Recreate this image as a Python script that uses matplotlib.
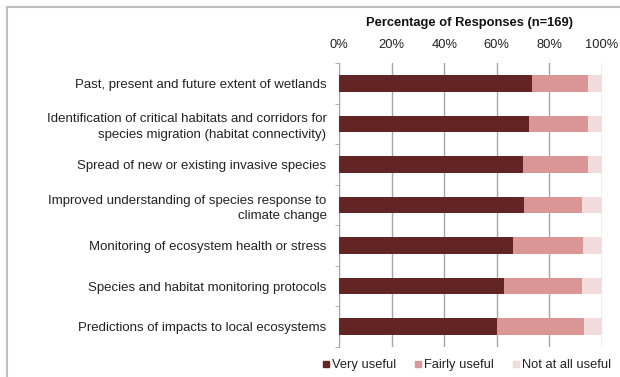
import numpy as np
import matplotlib
matplotlib.use('Agg')
import matplotlib.pyplot as plt
from matplotlib.lines import Line2D

plt.rcParams['font.family'] = ['Liberation Sans', 'DejaVu Sans']

categories = [
    'Past, present and future extent of wetlands',
    'Identification of critical habitats and corridors for\nspecies migration (habitat connectivity)',
    'Spread of new or existing invasive species',
    'Improved understanding of species response to\nclimate change',
    'Monitoring of ecosystem health or stress',
    'Species and habitat monitoring protocols',
    'Predictions of impacts to local ecosystems',
]
very_useful = [73.3, 72.2, 70.1, 70.3, 66.3, 62.9, 60.0]
fairly_useful = [21.5, 22.6, 24.7, 22.2, 26.6, 29.6, 33.2]
not_useful = [5.2, 5.2, 5.2, 7.5, 7.1, 7.5, 6.8]
series_names = ['Very useful', 'Fairly useful', 'Not at all useful']
colors = ['#632523', '#D99694', '#F2DCDB']
xticks = [0, 20, 40, 60, 80, 100]
title = 'Percentage of Responses (n=169)'

W, H = 620, 377
fig = plt.figure(figsize=(W / 100, H / 100), dpi=100)
ax = fig.add_axes([339 / W, 30 / H, 263 / W, 284 / H])

y = np.arange(len(categories))
left = np.zeros(len(categories))
for vals, c, name in zip([very_useful, fairly_useful, not_useful], colors, series_names):
    ax.barh(y, vals, left=left, height=0.41, color=c, label=name, zorder=3)
    left = left + np.array(vals)

ax.set_xlim(0, 100)
ax.set_ylim(6.5, -0.38)
ax.xaxis.tick_top()
ax.set_xticks(xticks)
ax.set_xticklabels([f'{v}%' for v in xticks], fontsize=9.3, color='#222222')
ax.tick_params(axis='x', length=0, pad=9)
ax.grid(axis='x', color='#A6A6A6', linewidth=1, zorder=0)

ax.set_yticks(y)
ax.set_yticklabels(categories, fontsize=9.5, color='#222222', linespacing=1.35)
ax.set_yticks(np.arange(len(categories) + 1) - 0.5, minor=True)
ax.tick_params(axis='y', which='major', length=0, pad=9)
ax.tick_params(axis='y', which='minor', length=3, color='#A6A6A6')

for s in ['top', 'right', 'bottom']:
    ax.spines[s].set_visible(False)
ax.spines['left'].set_color('#A6A6A6')

fig.text(470 / W, 1 - 23 / H, title, ha='center', va='center',
         fontsize=9.3, fontweight='bold', color='#111111')

handles = [Line2D([], [], marker='s', linestyle='none', markersize=4,
                  markerfacecolor=c, markeredgecolor=c) for c in colors]
fig.legend(handles, series_names, loc='center', bbox_to_anchor=(466 / W, 1 - 365 / H),
           ncol=3, frameon=False, fontsize=9.3, handletextpad=0.05,
           columnspacing=1.3, handlelength=0.8, labelcolor='#222222')

# outer frame (left and top edges only)
fig.add_artist(Line2D([7 / W, 7 / W], [0, 1 - 7 / H], color='#BFBFBF', linewidth=1.5))
fig.add_artist(Line2D([7 / W, 1], [1 - 7 / H, 1 - 7 / H], color='#BFBFBF', linewidth=1.5))

fig.savefig('out.png', dpi=100)
